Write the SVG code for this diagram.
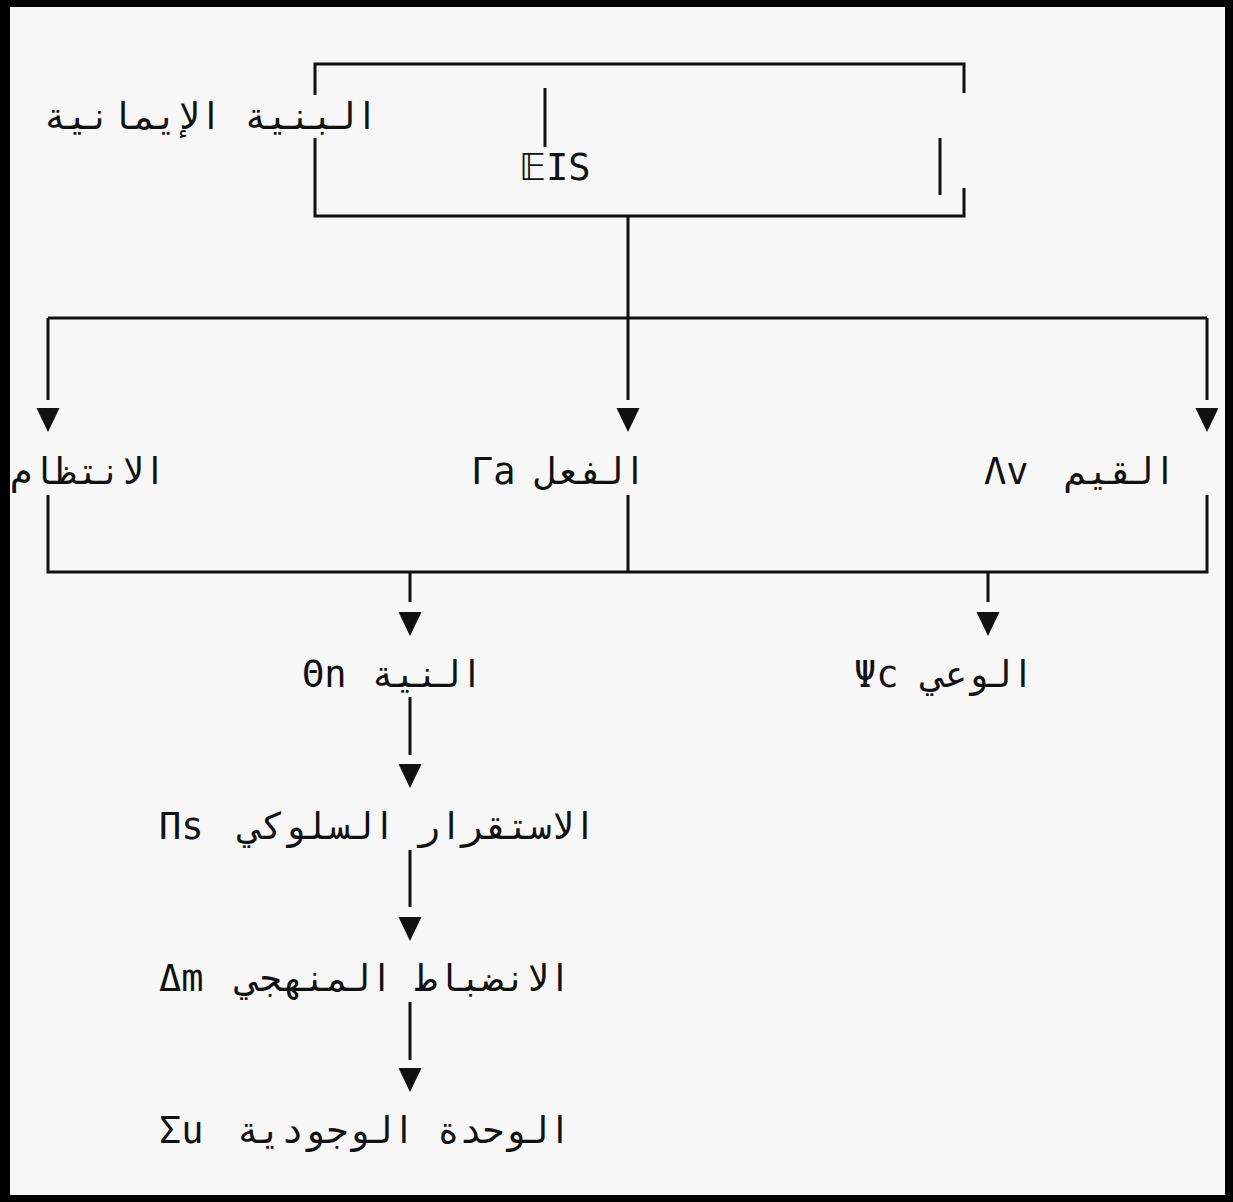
<svg xmlns="http://www.w3.org/2000/svg" xmlns:xlink="http://www.w3.org/1999/xlink" width="1233" height="1202" viewBox="0 0 1233 1202">
  <style>
    .t { font-family: 'DejaVu Sans Mono', 'Liberation Mono', 'DejaVu Sans', monospace; font-size: 37px; fill: #111; }
    .ar { text-anchor: end; }
    .gr { text-anchor: start; }
    .ln { fill: none; stroke: #111; stroke-width: 3; }
    .tri { fill: #111; }
  </style>
  <defs>
    <path id="tri" d="M-11.5,0 L11.5,0 L0,24 Z"/>
  </defs>

  <!-- page frame -->
  <rect x="0" y="0" width="1233" height="1202" fill="#000"/>
  <rect x="10" y="7" width="1215" height="1188" fill="#f7f7f7"/>

  <!-- root box -->
  <g id="node-eis">
    <path class="ln" d="M315 95 V64 H964 V93 M315 138 V216 H964 V188 M545 88 V147 M940 138 V195"/>
    <text class="t ar" x="378" y="129">البنية الإيمانية</text>
    <text class="t gr" x="519" y="180">𝔼IS</text>
  </g>

  <!-- level 1 -->
  <g id="node-intizam">
    <text class="t ar" x="166" y="484">الانتظام</text>
  </g>
  <g id="node-action">
    <text class="t"><tspan class="ar" x="646" y="484">الفعل</tspan><tspan class="gr" x="471" y="484">Γa</tspan></text>
  </g>
  <g id="node-values">
    <text class="t"><tspan class="ar" x="1176" y="484">القيم</tspan><tspan class="gr" x="984" y="484">Λv</tspan></text>
  </g>

  <!-- level 2 -->
  <g id="node-intention">
    <text class="t"><tspan class="ar" x="483" y="687">النية</tspan><tspan class="gr" x="302" y="687">Θn</tspan></text>
  </g>
  <g id="node-awareness">
    <text class="t"><tspan class="ar" x="1034" y="687">الوعي</tspan><tspan class="gr" x="854" y="687">Ψc</tspan></text>
  </g>

  <!-- chain -->
  <g id="node-stability">
    <text class="t"><tspan class="ar" x="596" y="839">الاستقرار السلوكي</tspan><tspan class="gr" x="159" y="839">Πs</tspan></text>
  </g>
  <g id="node-discipline">
    <text class="t"><tspan class="ar" x="571" y="991">الانضباط المنهجي</tspan><tspan class="gr" x="159" y="991">Δm</tspan></text>
  </g>
  <g id="node-unity">
    <text class="t"><tspan class="ar" x="571" y="1143">الوحدة الوجودية</tspan><tspan class="gr" x="159" y="1143">Σu</tspan></text>
  </g>

  <!-- connectors -->
  <g id="connectors">
    <path class="ln" d="M628 216 V400 M48 318 H1207 M48 318 V400 M1207 318 V400"/>
    <path class="ln" d="M48 495 V572 H1207 V495 M628 495 V572"/>
    <path class="ln" d="M410 572 V602 M988 572 V602"/>
    <path class="ln" d="M410 697 V755 M410 850 V907 M410 1002 V1060"/>
    <use class="tri" href="#tri" x="48" y="408"/>
    <use class="tri" href="#tri" x="628" y="408"/>
    <use class="tri" href="#tri" x="1207" y="408"/>
    <use class="tri" href="#tri" x="410" y="612"/>
    <use class="tri" href="#tri" x="988" y="612"/>
    <use class="tri" href="#tri" x="410" y="764"/>
    <use class="tri" href="#tri" x="410" y="917"/>
    <use class="tri" href="#tri" x="410" y="1068"/>
  </g>
</svg>
